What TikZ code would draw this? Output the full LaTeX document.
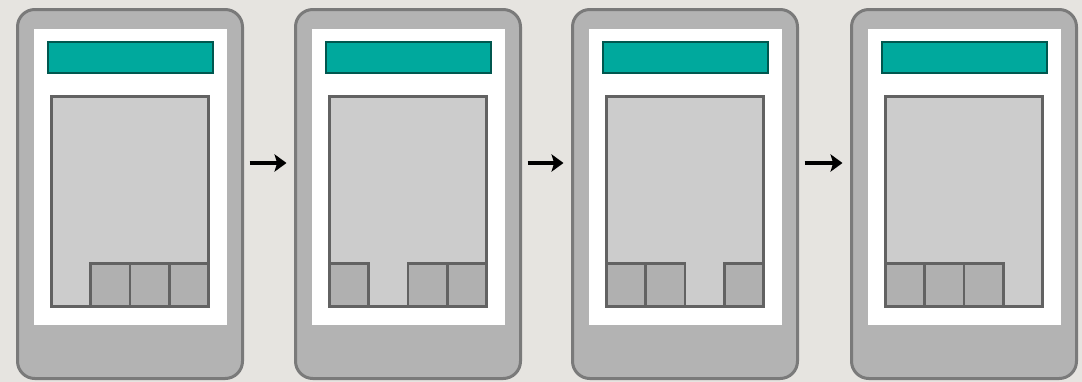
\documentclass[tikz,border=0pt]{standalone}
\usetikzlibrary{arrows.meta}
\definecolor{bg}{HTML}{E6E4E0}
\definecolor{bodyfill}{HTML}{B3B3B3}
\definecolor{bodyline}{HTML}{7A7A7A}
\definecolor{tealfill}{HTML}{00A99D}
\definecolor{tealline}{HTML}{00574F}
\definecolor{contfill}{HTML}{CCCCCC}
\definecolor{contline}{HTML}{626262}
\definecolor{btnfill}{HTML}{B0B0B0}
\tikzset{
  phonebody/.style={draw=bodyline, fill=bodyfill, line width=2.25pt, rounded corners=13pt,
    minimum width=225*0.75pt, minimum height=369*0.75pt, inner sep=0pt, outer sep=0pt},
  screenbox/.style={fill=white, minimum width=193*0.75pt, minimum height=296*0.75pt, inner sep=0pt},
  barbox/.style={draw=tealline, fill=tealfill, line width=1.6pt,
    minimum width=165*0.75pt, minimum height=31*0.75pt, inner sep=0pt},
  contbox/.style={draw=contline, fill=contfill, line width=1.9pt,
    minimum width=157.5*0.75pt, minimum height=210.5*0.75pt, inner sep=0pt},
  btnbox/.style={draw=contline, fill=btnfill, line width=1.9pt,
    minimum width=39.375*0.75pt, minimum height=43.5*0.75pt, inner sep=0pt},
  flowarrow/.style={draw=black, line width=3pt, -{Stealth[length=9pt,width=13pt,inset=2pt]},
    shorten <=5.25pt, shorten >=6.75pt}
}
\begin{document}
\begin{tikzpicture}[x=0.75pt,y=-0.75pt]
\fill[bg] (0,0) rectangle (1082,382);
\useasboundingbox (0,0) rectangle (1082,382);
\foreach \i/\ox/\gap in {1/16/0, 2/294/1, 3/571/2, 4/850/3} {
  \node[phonebody] (p\i) at (\ox+114,194) {};
  \node[screenbox] (s\i) at (\ox+114.5,177) {};
  \node[barbox] (b\i) at (\ox+114.5,57.5) {};
  \node[contbox] (c\i) at (\ox+114,201.5) {};
  \foreach \k in {0,1,2,3} {
    \ifnum\k=\gap\relax\else
      \node[btnbox] (k\i\k) at (\ox+54.94+39.375*\k,285) {};
    \fi
  }
}
\draw[flowarrow] ([yshift=23.25pt]p1.east) -- ([yshift=23.25pt]p2.west);
\draw[flowarrow] ([yshift=23.25pt]p2.east) -- ([yshift=23.25pt]p3.west);
\draw[flowarrow] ([yshift=23.25pt]p3.east) -- ([yshift=23.25pt]p4.west);
\end{tikzpicture}
\end{document}
